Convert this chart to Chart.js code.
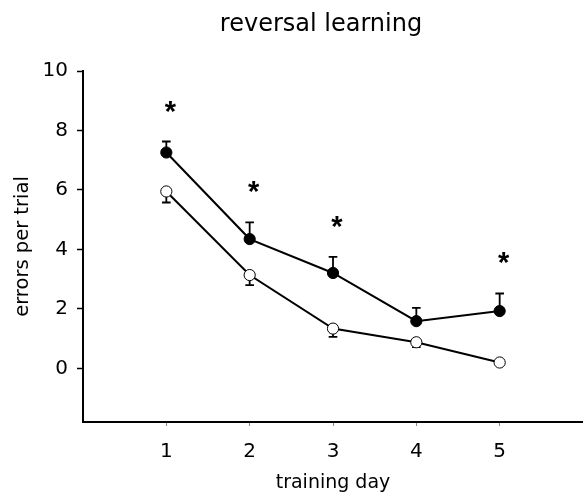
<!DOCTYPE html>
<html>
<head>
<meta charset="utf-8">
<script src="https://cdn.jsdelivr.net/npm/chart.js@4/dist/chart.umd.min.js"></script>
<style>
  html, body { margin: 0; padding: 0; background: #fff; }
  canvas { display: block; }
</style>
</head>
<body>
<canvas id="chart" width="583" height="494"></canvas>
<script>
// Training days (x values) and the tick labels shown on each axis
const days = [1, 2, 3, 4, 5];
const xTickValues = [1, 2, 3, 4, 5];
const yTickValues = [0, 2, 4, 6, 8, 10];

// Mean errors per trial and SEM for the two groups
const filledMeans = [7.26, 4.35, 3.21, 1.59, 1.93];
const filledSem   = [0.37, 0.56, 0.54, 0.45, 0.59];
const openMeans   = [5.95, 3.14, 1.34, 0.88, 0.20];
const openSem     = [0.37, 0.34, 0.28, 0.16, 0.08];

// Days marked as significant and the height of each asterisk
const sigDays   = [1, 2, 3, 5];
const sigLevels = [8.80, 6.11, 4.93, 3.70];

const chartTitle = 'reversal learning';
const xTitle = 'training day';
const yTitle = 'errors per trial';

const toPoints = (xs, ys) => xs.map((x, i) => ({ x: x, y: ys[i] }));

Chart.defaults.font.family = '"DejaVu Sans", "Liberation Sans", sans-serif';
Chart.defaults.color = '#000';

// One-sided error bars: filled group upward, open group downward
const errorBarPlugin = {
  id: 'errorBars',
  beforeDatasetsDraw(chart) {
    const { ctx, scales: { x, y } } = chart;
    ctx.save();
    ctx.strokeStyle = '#000';
    ctx.lineWidth = 1.8;
    const cap = 4.3;
    chart.data.datasets.forEach(ds => {
      const sems = ds.sem;
      const dir = ds.errorDir;
      ds.data.forEach((p, i) => {
        const px = x.getPixelForValue(p.x);
        const py0 = y.getPixelForValue(p.y);
        const py1 = y.getPixelForValue(p.y + dir * sems[i]);
        ctx.beginPath();
        ctx.moveTo(px, py0);
        ctx.lineTo(px, py1);
        ctx.moveTo(px - cap, py1);
        ctx.lineTo(px + cap, py1);
        ctx.stroke();
      });
    });
    ctx.restore();
  }
};

// Significance asterisks and the chart heading
const annotationPlugin = {
  id: 'annotations',
  afterDraw(chart) {
    const { ctx, scales: { x, y } } = chart;
    ctx.save();
    ctx.fillStyle = '#000';
    ctx.font = 'bold 29px "Liberation Sans", Arial, sans-serif';
    ctx.textAlign = 'center';
    ctx.textBaseline = 'alphabetic';
    sigDays.forEach((d, i) => {
      const px = x.getPixelForValue(d) + 4;
      const py = y.getPixelForValue(sigLevels[i]) + 14;
      ctx.fillText('*', px, py);
    });
    ctx.font = '24px "DejaVu Sans", sans-serif';
    ctx.fillText(chartTitle, 321, 31);
    ctx.restore();
  }
};

new Chart(document.getElementById('chart'), {
  type: 'scatter',
  data: {
    datasets: [
      {
        label: 'filled',
        data: toPoints(days, filledMeans),
        sem: filledSem,
        errorDir: 1,
        showLine: true,
        borderColor: '#000',
        borderWidth: 2,
        pointRadius: 5.6,
        pointBorderWidth: 1,
        pointBackgroundColor: '#000',
        pointBorderColor: '#000'
      },
      {
        label: 'open',
        data: toPoints(days, openMeans),
        sem: openSem,
        errorDir: -1,
        showLine: true,
        borderColor: '#000',
        borderWidth: 2,
        pointRadius: 5.6,
        pointBorderWidth: 1,
        pointBackgroundColor: '#fff',
        pointBorderColor: '#000'
      }
    ]
  },
  options: {
    responsive: false,
    animation: false,
    devicePixelRatio: 1,
    layout: { autoPadding: false, padding: { top: 71, right: 0, bottom: 0, left: 0 } },
    plugins: {
      legend: { display: false },
      tooltip: { enabled: false },
      title: { display: false }
    },
    scales: {
      x: {
        type: 'linear',
        min: 0,
        max: 6,
        afterBuildTicks(scale) { scale.ticks = xTickValues.map(v => ({ value: v })); },
        afterFit(scale) { scale.height = 72; scale.paddingRight = 0; scale.paddingLeft = 0; },
        border: { display: true, color: '#000', width: 2 },
        grid: { drawOnChartArea: false, drawTicks: true, tickLength: 4, tickColor: '#8a8a8a', tickWidth: 1 },
        ticks: { font: { size: 20 }, padding: 14, maxRotation: 0, autoSkip: false },
        title: { display: true, text: xTitle, font: { size: 19 }, lineHeight: 0.84, padding: { top: 0, bottom: 0 } }
      },
      y: {
        type: 'linear',
        min: -1.8,
        max: 10,
        afterBuildTicks(scale) { scale.ticks = yTickValues.map(v => ({ value: v })); },
        afterFit(scale) { scale.width = 83; },
        border: { display: true, color: '#000', width: 2 },
        grid: { drawOnChartArea: false, drawTicks: true, tickLength: 6, tickColor: '#000', tickWidth: 1.5 },
        ticks: { font: { size: 20 }, padding: 9, autoSkip: false },
        title: { display: true, text: yTitle, font: { size: 19.5 }, lineHeight: 1, padding: { top: 11, bottom: 0 } }
      }
    }
  },
  plugins: [errorBarPlugin, annotationPlugin]
});
</script>
</body>
</html>
